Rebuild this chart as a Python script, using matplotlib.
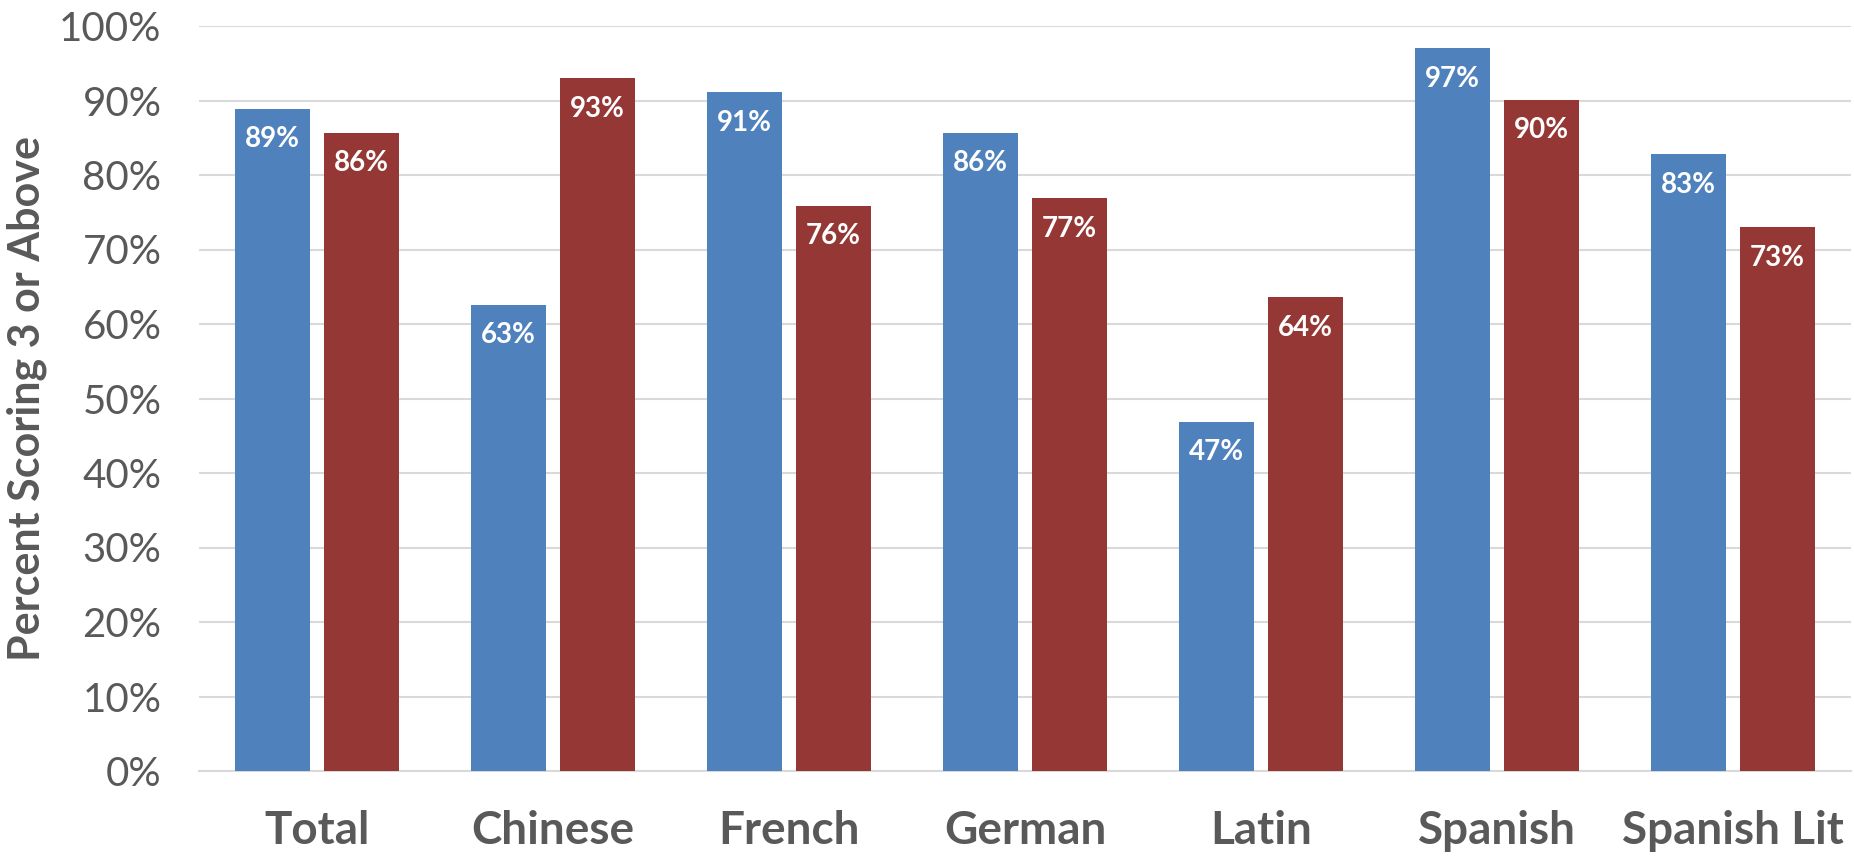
import matplotlib
matplotlib.use("Agg")
import matplotlib.pyplot as plt
import numpy as np

categories = ["Total", "Chinese", "French", "German", "Latin", "Spanish", "Spanish Lit"]
series_a = [88.9, 62.6, 91.1, 85.7, 46.9, 97.0, 82.8]
series_b = [85.7, 93.0, 75.9, 76.9, 63.6, 90.1, 73.0]
yticks = [0, 10, 20, 30, 40, 50, 60, 70, 80, 90, 100]
ylabel = "Percent Scoring 3 or Above"

blue = "#4F81BD"
red = "#953735"
gray = "#595959"

plt.rcParams['font.family'] = ['Lato', 'DejaVu Sans']

fig = plt.figure(figsize=(18.54, 8.58), dpi=100)
ax = fig.add_axes([199/1854, 87/858, 1652/1854, 745/858])

x = np.arange(len(categories))
w = 0.316
off = w/2 + 0.031
ba = ax.bar(x - off, series_a, width=w, color=blue, zorder=3)
bb = ax.bar(x + off, series_b, width=w, color=red, zorder=3)

for bars, vals in ((ba, series_a), (bb, series_b)):
    for r, v in zip(bars, vals):
        ax.annotate(f"{round(v):d}%", (r.get_x() + r.get_width()/2, v),
                    xytext=(0, -22), textcoords="offset points",
                    ha="center", va="center", color="white",
                    fontsize=20, fontweight="bold", zorder=4)

ax.set_xlim(-0.5, len(categories) - 0.5)
ax.set_ylim(0, 100)
ax.set_yticks(yticks)
ax.set_yticklabels([f"{t}%" for t in yticks])
ax.set_xticks(x)
ax.set_xticklabels(categories, fontweight="bold")
ax.tick_params(axis="y", length=0, pad=27, labelsize=29, labelcolor=gray)
ax.tick_params(axis="x", length=0, pad=28, labelsize=33, labelcolor=gray)
ax.grid(axis="y", color="#D9D9D9", linewidth=1.5, zorder=0)
for s in ("top", "right", "left"):
    ax.spines[s].set_visible(False)
ax.spines["bottom"].set_color("#D9D9D9")
ax.spines["bottom"].set_linewidth(1.5)
ax.set_ylabel(ylabel, fontsize=31, fontweight="bold", color=gray)
ax.yaxis.set_label_coords(-0.092, 0.5)

fig.savefig("out.png", dpi=100)
